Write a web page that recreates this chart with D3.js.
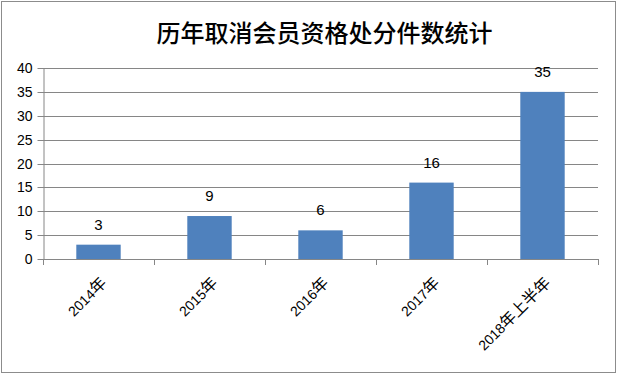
<!DOCTYPE html>
<html><head><meta charset="utf-8">
<script src="https://cdn.jsdelivr.net/npm/d3@7"></script>
<style>body{margin:0;background:#fff}</style>
</head><body>
<svg id="c" width="618" height="375"></svg>
<script>
const title = "历年取消会员资格处分件数统计";
const categories = ["2014年","2015年","2016年","2017年","2018年上半年"];
const values = [3, 9, 6, 16, 35];
const yTicks = [0,5,10,15,20,25,30,35,40];

const svg = d3.select("#c");
svg.append("rect").attr("x",1.5).attr("y",1.5).attr("width",614).attr("height",371)
  .attr("fill","#fff").attr("stroke","#8c8c8c").attr("stroke-width",1);

const L=43, R=598, T=68, B=259;
const x = d3.scaleBand().domain(categories).range([L,R]).paddingInner(0.6).paddingOuter(0.3);
const y = d3.scaleLinear().domain([0,40]).range([B,T]);

svg.append("text").attr("x",324.5).attr("y",42).attr("text-anchor","middle")
  .attr("font-family","'Noto Sans CJK SC'").attr("font-size",24).attr("font-weight","500")
  .attr("fill","#000").text(title);

// gridlines
svg.append("g").selectAll("line").data(yTicks.filter(d=>d>0)).join("line")
  .attr("x1",L).attr("x2",R).attr("y1",d=>Math.round(y(d))+0.5).attr("y2",d=>Math.round(y(d))+0.5)
  .attr("stroke","#868686").attr("stroke-width",1);

// y axis
const ya = svg.append("g").attr("transform",`translate(${L+0.5},0)`)
  .call(d3.axisLeft(y).tickValues(yTicks).tickSize(6).tickSizeOuter(0).tickPadding(5));
ya.select(".domain").attr("stroke","#868686");
ya.selectAll(".tick line").attr("stroke","#868686");
ya.selectAll(".tick").attr("transform",d=>`translate(0,${Math.round(y(d))+0.5})`);
ya.selectAll("text").attr("font-family","'Liberation Sans',Arial").attr("font-size",14).attr("fill","#000");

// x axis
const step = (R-L)/categories.length;
const xa = svg.append("g");
xa.append("line").attr("x1",L).attr("x2",R).attr("y1",B+0.5).attr("y2",B+0.5).attr("stroke","#868686");
xa.selectAll("line.t").data(d3.range(categories.length+1)).join("line").attr("class","t")
  .attr("x1",i=>Math.round(L+i*step)+0.5).attr("x2",i=>Math.round(L+i*step)+0.5)
  .attr("y1",B).attr("y2",B+6).attr("stroke","#868686");

// bars
svg.append("g").selectAll("rect").data(values).join("rect")
  .attr("x",(d,i)=>x(categories[i])).attr("width",x.bandwidth())
  .attr("y",d=>y(d)).attr("height",d=>B-y(d)).attr("fill","#4f81bd");

// value labels
svg.append("g").selectAll("text").data(values).join("text")
  .attr("x",(d,i)=>x(categories[i])+x.bandwidth()/2).attr("y",d=>y(d)-15)
  .attr("text-anchor","middle").attr("font-family","'Liberation Sans',Arial").attr("font-size",15)
  .attr("fill","#000").text(d=>d);

// category labels (digits in Latin font, CJK slightly larger)
const cl = svg.append("g").selectAll("text").data(categories).join("text")
  .attr("transform",(d)=>`translate(${x(d)+x.bandwidth()/2+5},${B+21}) rotate(-45)`)
  .attr("text-anchor","end").attr("dy","0.35em").attr("fill","#000");
cl.each(function(d){
  const t = d3.select(this);
  const parts = d.match(/(\d+|[^\d]+)/g);
  parts.forEach(p=>{
    const isNum = /^\d+$/.test(p);
    t.append("tspan").text(p)
      .attr("font-family", isNum ? "'Liberation Sans',Arial" : "'Noto Sans CJK SC'")
      .attr("font-size", isNum ? 14 : 16);
  });
});
</script>
</body></html>
